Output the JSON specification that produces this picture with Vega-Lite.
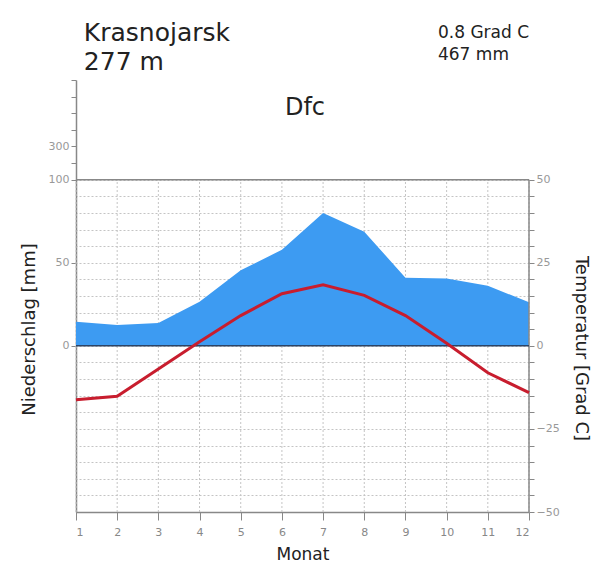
{
  "$schema": "https://vega.github.io/schema/vega-lite/v6.json",
  "width": 453,
  "height": 432,
  "autosize": "none",
  "padding": {"left": 76, "top": 80, "right": 83, "bottom": 76},
  "background": "white",
  "config": {"view": {"stroke": null}, "font": "DejaVu Sans", "text": {"fontWeight": "normal"}},
  "data": {
    "values": [
      {"month": 1, "temp": -16.2, "precip": 14.5},
      {"month": 2, "temp": -15.2, "precip": 12.5},
      {"month": 3, "temp": -7.0, "precip": 13.8},
      {"month": 4, "temp": 1.2, "precip": 26.5},
      {"month": 5, "temp": 9.1, "precip": 45.5},
      {"month": 6, "temp": 15.7, "precip": 57.8},
      {"month": 7, "temp": 18.4, "precip": 80.0},
      {"month": 8, "temp": 15.2, "precip": 68.7},
      {"month": 9, "temp": 9.1, "precip": 41.0},
      {"month": 10, "temp": 0.8, "precip": 40.6},
      {"month": 11, "temp": -8.1, "precip": 36.2},
      {"month": 12, "temp": -14.1, "precip": 26.2}
    ]
  },
  "encoding": {
    "x": {
      "field": "month",
      "type": "quantitative",
      "scale": {"domain": [1, 12], "nice": false, "zero": false},
      "axis": {
        "values": [1, 2, 3, 4, 5, 6, 7, 8, 9, 10, 11, 12],
        "format": "d",
        "grid": false,
        "domainColor": "#888888",
        "domainWidth": 1.5,
        "tickColor": "#888888",
        "tickSize": 8,
        "labelColor": "#888888",
        "labelFontSize": 11,
        "labelPadding": 6,
        "title": "Monat",
        "titleFontSize": 17,
        "titleFontWeight": "normal",
        "titleColor": "#222222",
        "titlePadding": 9
      }
    }
  },
  "layer": [
    {
      "mark": {"type": "rule", "color": "#c4c4c4", "strokeDash": [2, 2], "strokeWidth": 1},
      "encoding": {
        "y": {"datum": -50, "type": "quantitative", "scale": {"domain": [-50, 80], "nice": false, "zero": false}, "axis": null},
        "y2": {"datum": 50}
      }
    },
    {
      "mark": {"type": "area", "color": "#3d9bf2", "opacity": 1},
      "encoding": {
        "y": {
          "field": "precip",
          "type": "quantitative",
          "scale": {"domain": [-100, 160], "nice": false, "zero": false},
          "axis": {
            "orient": "left",
            "values": [0, 50, 100, 110, 120, 130, 140, 150, 160],
            "labelExpr": "datum.value == 120 ? '300' : (datum.value <= 100 ? datum.label : '')",
            "grid": false,
            "domainColor": "#888888",
            "domainWidth": 1.5,
            "tickColor": "#888888",
            "tickSize": 5,
            "labelColor": "#999999",
            "labelFontSize": 11,
            "labelPadding": 2,
            "title": "Niederschlag [mm]",
            "titleFontSize": 18,
            "titleFontWeight": "normal",
            "titleColor": "#222222",
            "titlePadding": 10,
            "titleY": 249
          }
        }
      }
    },
    {
      "transform": [{"filter": "datum.month == 1"}],
      "mark": {"type": "rule", "color": "#888888", "strokeWidth": 1.5},
      "encoding": {
        "y": {"datum": 50, "type": "quantitative", "scale": {"domain": [-50, 80], "nice": false, "zero": false}, "axis": null},
        "x": {"datum": 1, "type": "quantitative"},
        "x2": {"datum": 12}
      }
    },
    {
      "transform": [{"filter": "datum.month == 1"}],
      "mark": {"type": "rule", "color": "#888888", "strokeWidth": 1.5},
      "encoding": {
        "x": {"datum": 12, "type": "quantitative"},
        "y": {"datum": -50, "type": "quantitative", "scale": {"domain": [-50, 80], "nice": false, "zero": false}, "axis": null},
        "y2": {"datum": 50}
      }
    },
    {
      "transform": [{"filter": "datum.month == 1"}],
      "mark": {"type": "rule", "color": "#2c4466", "strokeWidth": 1.5},
      "encoding": {
        "y": {"datum": 0, "type": "quantitative", "scale": {"domain": [-50, 80], "nice": false, "zero": false}, "axis": null},
        "x": {"datum": 1, "type": "quantitative"},
        "x2": {"datum": 12}
      }
    },
    {
      "mark": {"type": "line", "color": "#c81d2e", "strokeWidth": 3},
      "encoding": {
        "y": {
          "field": "temp",
          "type": "quantitative",
          "scale": {"domain": [-50, 80], "nice": false, "zero": false},
          "axis": {
            "orient": "right",
            "values": [-50, -45, -40, -35, -30, -25, -20, -15, -10, -5, 0, 5, 10, 15, 20, 25, 30, 35, 40, 45, 50],
            "labelExpr": "datum.value % 25 == 0 ? datum.label : ''",
            "domain": false,
            "grid": true,
            "gridColor": "#c4c4c4",
            "gridDash": [2, 2],
            "gridWidth": 1,
            "tickColor": "#888888",
            "tickSize": 5,
            "labelColor": "#999999",
            "labelFontSize": 11,
            "labelPadding": 2,
            "title": "Temperatur [Grad C]",
            "titleFontSize": 18,
            "titleFontWeight": "normal",
            "titleColor": "#222222",
            "titlePadding": 12,
            "titleY": 268
          }
        }
      }
    },
    {
      "transform": [{"filter": "datum.month == 1"}],
      "mark": {"type": "text", "fontSize": 25, "fontWeight": "normal", "color": "#222222", "align": "left", "baseline": "alphabetic"},
      "encoding": {
        "x": {"datum": 1.19, "type": "quantitative"},
        "y": {"datum": 91.7, "type": "quantitative", "scale": {"domain": [-50, 80], "nice": false, "zero": false}, "axis": null},
        "text": {"value": "Krasnojarsk"}
      }
    },
    {
      "transform": [{"filter": "datum.month == 1"}],
      "mark": {"type": "text", "fontSize": 25, "fontWeight": "normal", "color": "#222222", "align": "left", "baseline": "alphabetic"},
      "encoding": {
        "x": {"datum": 1.19, "type": "quantitative"},
        "y": {"datum": 83.0, "type": "quantitative", "scale": {"domain": [-50, 80], "nice": false, "zero": false}, "axis": null},
        "text": {"value": "277 m"}
      }
    },
    {
      "transform": [{"filter": "datum.month == 1"}],
      "mark": {"type": "text", "fontSize": 24, "fontWeight": "normal", "color": "#222222", "align": "center", "baseline": "middle"},
      "encoding": {
        "x": {"datum": 6.56, "type": "quantitative"},
        "y": {"datum": 71.6, "type": "quantitative", "scale": {"domain": [-50, 80], "nice": false, "zero": false}, "axis": null},
        "text": {"value": "Dfc"}
      }
    },
    {
      "transform": [{"filter": "datum.month == 1"}],
      "mark": {"type": "text", "fontSize": 17, "fontWeight": "normal", "color": "#222222", "align": "left", "baseline": "middle"},
      "encoding": {
        "x": {"datum": 9.79, "type": "quantitative"},
        "y": {"datum": 94.2, "type": "quantitative", "scale": {"domain": [-50, 80], "nice": false, "zero": false}, "axis": null},
        "text": {"value": "0.8 Grad C"}
      }
    },
    {
      "transform": [{"filter": "datum.month == 1"}],
      "mark": {"type": "text", "fontSize": 17, "fontWeight": "normal", "color": "#222222", "align": "left", "baseline": "middle"},
      "encoding": {
        "x": {"datum": 9.79, "type": "quantitative"},
        "y": {"datum": 87.6, "type": "quantitative", "scale": {"domain": [-50, 80], "nice": false, "zero": false}, "axis": null},
        "text": {"value": "467 mm"}
      }
    }
  ],
  "resolve": {"scale": {"y": "independent"}, "axis": {"y": "independent"}}
}
